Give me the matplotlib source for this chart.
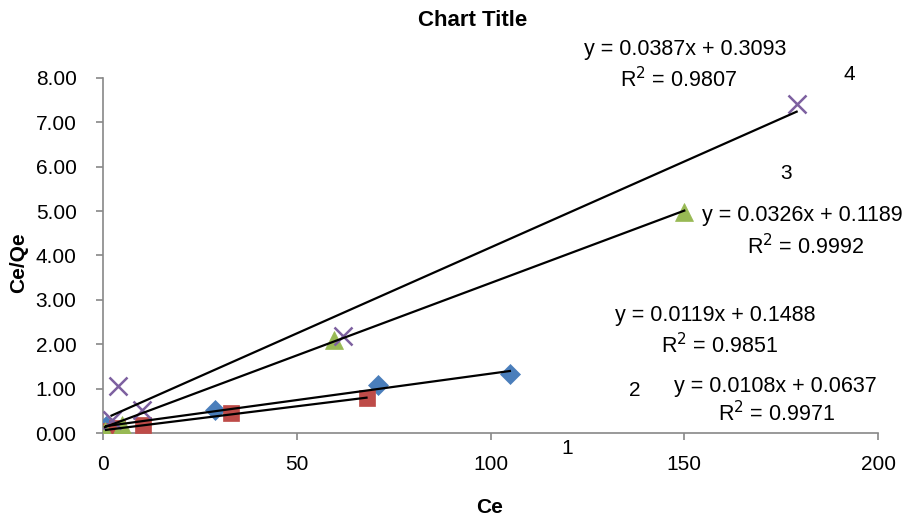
import numpy as np
import matplotlib
matplotlib.use("Agg")
import matplotlib.pyplot as plt

plt.rcParams['font.family'] = ['Liberation Sans', 'DejaVu Sans']

# series data
x1 = [0.8, 29, 71, 105]
y1 = [0.15, 0.52, 1.08, 1.33]
x2 = [0.8, 3.5, 10.3, 33, 68]
y2 = [0.05, 0.11, 0.18, 0.45, 0.79]
x3 = [0.5, 4.8, 59.5, 150]
y3 = [0.05, 0.18, 2.09, 4.97]
x4 = [2.2, 4, 10, 62, 179]
y4 = [0.29, 1.07, 0.53, 2.18, 7.42]

# trendline coefficients (slope, intercept, r2)
fits = [(0.0119, 0.1488, 0.9851), (0.0108, 0.0637, 0.9971),
        (0.0326, 0.1189, 0.9992), (0.0387, 0.3093, 0.9807)]

series = [(x1, y1), (x2, y2), (x3, y3), (x4, y4)]
colors = ['#4A7EBB', '#BE4B48', '#98B954', '#7D60A0']
markers = ['D', 's', '^', 'x']
msizes = [10, 12, 13, 13]

fig = plt.figure(figsize=(9.05, 5.15), dpi=100)
ax = fig.add_axes([0.1138, 0.159, 0.8564, 0.690])

for (xs, ys), c, m, ms in zip(series, colors, markers, msizes):
    ax.plot(xs, ys, linestyle='none', marker=m, color=c, markersize=ms,
            markeredgewidth=1.8 if m == 'x' else 0.5, markeredgecolor=c, zorder=3)

for (xs, ys), (a, b, r2) in zip(series, fits):
    xx = np.array([min(xs), max(xs)])
    ax.plot(xx, a * xx + b, color='black', lw=1.6, zorder=4)

# equation labels (x, y in data units) -- eq text, r2 text
eq_pos = [((157.9, 2.64), (159.2, 1.96)),
          ((173.4, 1.04), (173.7, 0.43)),
          ((180.4, 4.89), (181.4, 4.21)),
          ((150.2, 8.63), (148.4, 7.95))]
for (a, b, r2), (p_eq, p_r2) in zip(fits, eq_pos):
    ax.text(p_eq[0], p_eq[1], 'y = %.4fx + %.4f' % (a, b), fontsize=15.5,
            ha='center', va='center', clip_on=False)
    ax.text(p_r2[0], p_r2[1], 'R$^2$ = %.4f' % r2, fontsize=15.5,
            ha='center', va='center', clip_on=False)

num_labels = ['1', '2', '3', '4']
num_pos = [(119.7, -0.34), (137.3, 0.97), (176.3, 5.84), (192.5, 8.07)]
for lab, (px, py) in zip(num_labels, num_pos):
    ax.text(px, py, lab, fontsize=15, ha='center', va='center', clip_on=False)

ax.set_xlim(0, 200)
ax.set_ylim(0, 8)
ax.set_xticks([0, 50, 100, 150, 200])
ax.set_yticks(np.arange(0, 8.01, 1))
ax.set_yticklabels(['%.2f' % v for v in np.arange(0, 8.01, 1)])
ax.tick_params(axis='both', labelsize=15, color='#888888', length=5, width=1.2)
ax.tick_params(axis='x', pad=11)
ax.tick_params(axis='y', pad=14)
for s in ['top', 'right']:
    ax.spines[s].set_visible(False)
for s in ['left', 'bottom']:
    ax.spines[s].set_color('#888888')
    ax.spines[s].set_linewidth(1.2)

ax.set_xlabel('Ce', fontsize=15, fontweight='bold', va='center')
ax.set_ylabel('Ce/Qe', fontsize=15, fontweight='bold', va='center')
ax.xaxis.set_label_coords(0.499, -0.208)
ax.yaxis.set_label_coords(-0.109, 0.48)
fig.text(0.5226, 0.961, 'Chart Title', fontsize=16, fontweight='bold',
         ha='center', va='center')

fig.savefig('out.png', dpi=100)
